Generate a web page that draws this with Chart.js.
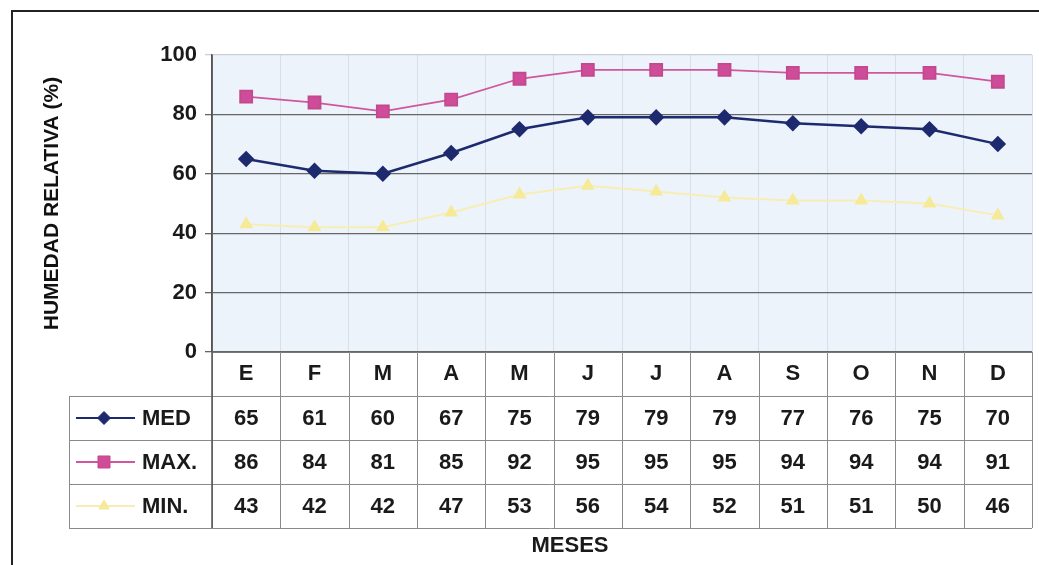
<!DOCTYPE html>
<html>
<head>
<meta charset="utf-8">
<script src="https://cdn.jsdelivr.net/npm/chart.js@4/dist/chart.umd.min.js"></script>
<style>
  html, body { margin: 0; padding: 0; background: #fff; }
  #wrap { position: relative; width: 1039px; height: 565px; }
</style>
</head>
<body>
<div id="wrap"><canvas id="humChart"></canvas></div>
<script>
// data
const months = ['E', 'F', 'M', 'A', 'M', 'J', 'J', 'A', 'S', 'O', 'N', 'D'];
const medValues = [65, 61, 60, 67, 75, 79, 79, 79, 77, 76, 75, 70];
const maxValues = [86, 84, 81, 85, 92, 95, 95, 95, 94, 94, 94, 91];
const minValues = [43, 42, 42, 47, 53, 56, 54, 52, 51, 51, 50, 46];
const seriesNames = ['MED', 'MAX.', 'MIN.'];
const yTickValues = [0, 20, 40, 60, 80, 100];

const FONT = "'Liberation Sans', Arial, sans-serif";
const TEXT = '#1a1a1a';

// frame, plot background, data table and x title
const tablePlugin = {
    id: 'dataTable',
    beforeDraw(chart) {
        const { ctx, chartArea: a } = chart;
        ctx.save();
        ctx.fillStyle = '#fff';
        ctx.fillRect(0, 0, chart.width, chart.height);
        ctx.strokeStyle = '#222';
        ctx.lineWidth = 2;
        ctx.beginPath();
        ctx.moveTo(12, chart.height);
        ctx.lineTo(12, 11);
        ctx.lineTo(chart.width, 11);
        ctx.stroke();
        ctx.fillStyle = '#edf3fb';
        ctx.fillRect(a.left, a.top, a.right - a.left, a.bottom - a.top);
        ctx.restore();
    },
    afterDraw(chart) {
        const { ctx, chartArea: a } = chart;
        const xs = chart.scales.x;
        const rowH = 44;
        const legendLeft = 69;
        const colW = (a.right - a.left) / months.length;
        const bottom = a.bottom + rowH * 4;
        ctx.save();
        ctx.strokeStyle = '#8a8a8a';
        ctx.lineWidth = 1;
        // horizontal row lines
        for (let r = 1; r <= 4; r++) {
            const y = Math.round(a.bottom + r * rowH) + 0.5;
            ctx.beginPath();
            ctx.moveTo(legendLeft, y);
            ctx.lineTo(a.right, y);
            ctx.stroke();
        }
        // vertical column lines
        for (let i = 0; i <= months.length; i++) {
            const x = Math.round(a.left + i * colW) + 0.5;
            ctx.beginPath();
            ctx.moveTo(x, a.bottom);
            ctx.lineTo(x, bottom);
            ctx.stroke();
        }
        ctx.beginPath();
        ctx.moveTo(legendLeft + 0.5, a.bottom + rowH);
        ctx.lineTo(legendLeft + 0.5, bottom);
        ctx.stroke();
        ctx.strokeStyle = '#555';
        ctx.lineWidth = 1.5;
        ctx.beginPath();
        ctx.moveTo(a.left, a.top);
        ctx.lineTo(a.left, bottom);
        ctx.stroke();

        // values and legend keys
        ctx.font = 'bold 22px ' + FONT;
        ctx.textBaseline = 'middle';
        chart.data.datasets.forEach((ds, r) => {
            const yc = a.bottom + rowH * (r + 1) + rowH / 2;
            ctx.fillStyle = TEXT;
            ctx.textAlign = 'center';
            ds.data.forEach((v, i) => {
                ctx.fillText(String(v), xs.getPixelForValue(i), yc + 1);
            });
            ctx.textAlign = 'left';
            ctx.fillText(ds.label, 142, yc + 1);
            ctx.strokeStyle = ds.borderColor;
            ctx.lineWidth = Math.min(ds.borderWidth, 2);
            ctx.beginPath();
            ctx.moveTo(76, yc);
            ctx.lineTo(135, yc);
            ctx.stroke();
            ctx.fillStyle = ds.pointBackgroundColor;
            ctx.strokeStyle = ds.pointBorderColor;
            ctx.lineWidth = 1;
            Chart.helpers.drawPoint(ctx, { pointStyle: ds.pointStyle, radius: ds.pointRadius, rotation: 0, borderWidth: 1 }, 104, yc);
        });

        ctx.fillStyle = TEXT;
        ctx.textAlign = 'center';
        ctx.font = 'bold 22px ' + FONT;
        ctx.fillText('MESES', 570, 546);
        ctx.restore();
    }
};

const ctx = document.getElementById('humChart').getContext('2d');
new Chart(ctx, {
    type: 'line',
    data: {
        labels: months,
        datasets: [
            {
                label: seriesNames[0],
                data: medValues,
                borderColor: '#1d2a6e',
                borderWidth: 2.5,
                pointStyle: 'rectRot',
                pointRadius: 6.5,
                pointBackgroundColor: '#1d2a6e',
                pointBorderColor: '#1d2a6e',
                tension: 0
            },
            {
                label: seriesNames[1],
                data: maxValues,
                borderColor: '#d0569e',
                borderWidth: 1.8,
                pointStyle: 'rect',
                pointRadius: 8.5,
                pointBackgroundColor: '#cf4c98',
                pointBorderColor: '#c2498f',
                tension: 0
            },
            {
                label: seriesNames[2],
                data: minValues,
                borderColor: '#f7eeb4',
                borderWidth: 2,
                pointStyle: 'triangle',
                pointRadius: 6,
                pointBackgroundColor: '#f5ea98',
                pointBorderColor: '#f5ea98',
                tension: 0
            }
        ]
    },
    options: {
        responsive: true,
        maintainAspectRatio: false,
        animation: false,
        layout: { autoPadding: false, padding: { top: 55, right: 7, left: 0, bottom: 0 } },
        plugins: {
            legend: { display: false },
            tooltip: { enabled: false }
        },
        scales: {
            x: {
                offset: true,
                afterFit: s => { s.height = 213; s.paddingLeft = 0; s.paddingRight = 0; },
                grid: { offset: true, color: '#d6dfeb', lineWidth: 1, drawTicks: false },
                border: { color: '#777', width: 1 },
                ticks: {
                    color: TEXT,
                    padding: 9,
                    font: { family: FONT, size: 22, weight: 'bold' }
                }
            },
            y: {
                min: 0,
                max: 100,
                afterFit: s => { s.width = 212; s.paddingTop = 0; s.paddingBottom = 0; },
                afterBuildTicks: s => { s.ticks = yTickValues.map(v => ({ value: v })); },
                grid: {
                    color: c => (c.tick && c.tick.value === 100) ? '#c9ced8' : '#666',
                    lineWidth: 1.3,
                    tickLength: 7
                },
                border: { color: '#555', width: 1.5 },
                ticks: {
                    color: TEXT,
                    padding: 8,
                    font: { family: FONT, size: 22, weight: 'bold' }
                },
                title: {
                    display: true,
                    text: 'HUMEDAD RELATIVA (%)',
                    color: '#111',
                    padding: { top: 40 },
                    font: { family: FONT, size: 21, weight: 'bold' }
                }
            }
        }
    },
    plugins: [tablePlugin]
});
</script>
</body>
</html>
